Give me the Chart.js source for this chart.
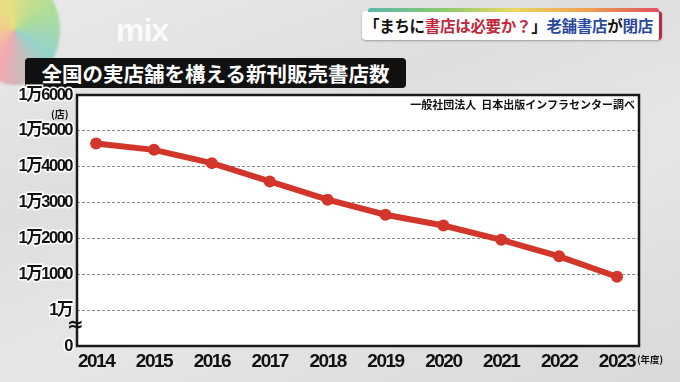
<!DOCTYPE html>
<html><head><meta charset="utf-8">
<script src="https://cdn.jsdelivr.net/npm/chart.js@4.4.1/dist/chart.umd.min.js"></script>
<style>
html,body{margin:0;padding:0;}
body{width:680px;height:382px;overflow:hidden;position:relative;
 background:linear-gradient(160deg,#e9e9e9 0%,#dedede 35%,#e6e6e6 60%,#d9d9d9 100%);
 font-family:"Noto Sans CJK JP",sans-serif;}
#blob{position:absolute;left:-30px;top:-25px;width:90px;height:110px;border-radius:50%;
 background:conic-gradient(from 200deg,#f2a0a8,#f7c680,#e8e070,#a8dc88,#88d0c8,#f2a0a8);opacity:.85;filter:blur(1px);}
#logo{position:absolute;left:116px;top:12px;font:900 32px "Liberation Sans",sans-serif;color:rgba(255,255,255,.85);letter-spacing:-1px;}
#headline{position:absolute;left:362px;top:11px;width:300px;height:29px;background:#fff;border-radius:4px;
 box-shadow:0 1px 2px rgba(0,0,0,.3);border-right:3px solid #c0283a;box-sizing:border-box;}
#headline .strip{position:absolute;left:6px;right:0;top:-3px;height:4px;border-radius:3px 3px 0 0;
 background:linear-gradient(90deg,#5ab8b0,#88c870,#e8d860,#f0a050,#e05060);}
#headline .txt{position:absolute;left:2px;top:3px;font:bold 15.5px "Noto Sans CJK JP";color:#111;white-space:nowrap;letter-spacing:-0.3px;}
.r{color:#c0283a}.b{color:#2a48a0}
#title{position:absolute;left:25px;top:58px;width:381px;height:30px;background:#111;border-radius:4px;
 color:#fff;font:bold 20.5px "Noto Sans CJK JP";line-height:30px;text-align:center;white-space:nowrap;}
#src{position:absolute;right:45px;top:96px;font:bold 11px "Noto Sans CJK JP";color:#111;white-space:nowrap;}
#unit{position:absolute;left:51px;top:106px;font:bold 10px "Noto Sans CJK JP";color:#111;}
#wave{position:absolute;left:67px;top:314px;font:bold 20px "DejaVu Sans";color:#111;line-height:20px;}
#nendo{position:absolute;left:637px;top:352px;font:bold 9.5px "Noto Sans CJK JP";color:#111;}
canvas{position:absolute;left:0;top:0;}
</style></head>
<body>
<div id="blob"></div>
<div id="logo">mix</div>
<div id="headline"><div class="strip"></div><div class="txt">「まちに<span class="r">書店は必要か？</span>」<span class="b">老舗書店</span>が<span class="b">閉店</span></div></div>
<div id="title">全国の実店舗を構える新刊販売書店数</div>
<canvas id="c" width="680" height="382"></canvas>
<div id="src">一般社団法人&nbsp; 日本出版インフラセンター調べ</div>
<div id="unit">(店)</div>
<div id="wave">≈</div>
<div id="nendo">(年度)</div>
<script>
const years = ["2014","2015","2016","2017","2018","2019","2020","2021","2022","2023"];
const storeCounts = [14650, 14470, 14100, 13590, 13080, 12660, 12360, 11960, 11500, 10930];
const yTickValues = [9000, 10000, 11000, 12000, 13000, 14000, 15000, 16000];
const yTickLabels = ["0", "1万", "1万1000", "1万2000", "1万3000", "1万4000", "1万5000", "1万6000"];

const boxPlugin = {
  id: 'box',
  beforeDraw(chart) {
    const {ctx, chartArea: a} = chart;
    ctx.fillStyle = '#fff';
    ctx.fillRect(a.left, a.top, a.right - a.left, a.bottom - a.top);
    // condensed look for the axis labels
    ctx.letterSpacing = '-1.5px';
  },
  beforeDatasetsDraw(chart) {
    const {ctx, chartArea: a} = chart;
    ctx.save();
    ctx.strokeStyle = '#1a1a1a';
    ctx.lineWidth = 2.5;
    ctx.strokeRect(a.left, a.top, a.right - a.left, a.bottom - a.top);
    ctx.restore();
  },
  afterDatasetsDraw(chart) {
    chart.ctx.letterSpacing = '-1.2px';
  }
};

const fam = "'Liberation Sans','Noto Sans CJK JP'";

new Chart(document.getElementById('c'), {
  type: 'line',
  data: {
    datasets: [{
      data: storeCounts.map((v, i) => ({x: i, y: v})),
      borderColor: '#d2352a',
      backgroundColor: '#d2352a',
      borderWidth: 6,
      pointRadius: 6,
      pointHoverRadius: 6,
      pointBorderWidth: 0,
      tension: 0
    }]
  },
  options: {
    responsive: false,
    animation: false,
    events: [],
    layout: {padding: {top: 95, right: 41, left: 0, bottom: 0}},
    plugins: {legend: {display: false}, tooltip: {enabled: false}},
    scales: {
      x: {
        type: 'linear',
        z: 1,
        min: -0.33,
        max: 9.38,
        afterFit(s) { s.height = 36; },
        afterBuildTicks(s) { s.ticks = years.map((y, i) => ({value: i})); },
        grid: {display: false, drawTicks: false},
        border: {display: false},
        ticks: {
          callback: (v) => years[v],
          autoSkip: false,
          maxRotation: 0,
          padding: 4,
          color: '#111',
          font: {family: fam, size: 19, weight: 'bold'}
        }
      },
      y: {
        min: 9000,
        max: 16000,
        afterFit(s) { s.width = 77; },
        afterBuildTicks(s) { s.ticks = yTickValues.map(v => ({value: v})); },
        border: {display: false, dash: [3, 2]},
        grid: {
          drawTicks: false,
          color: (c) => (c.tick && (c.tick.value === 9000 || c.tick.value === 16000)) ? 'rgba(0,0,0,0)' : '#8a8a8a',
          lineWidth: 1
        },
        ticks: {
          callback: (v) => yTickLabels[yTickValues.indexOf(v)],
          padding: 5,
          color: '#111',
          textStrokeColor: '#fff',
          textStrokeWidth: 3,
          font: {family: fam, size: 16.5, weight: 'bold'}
        }
      }
    }
  },
  plugins: [boxPlugin]
});
</script>
</body></html>
